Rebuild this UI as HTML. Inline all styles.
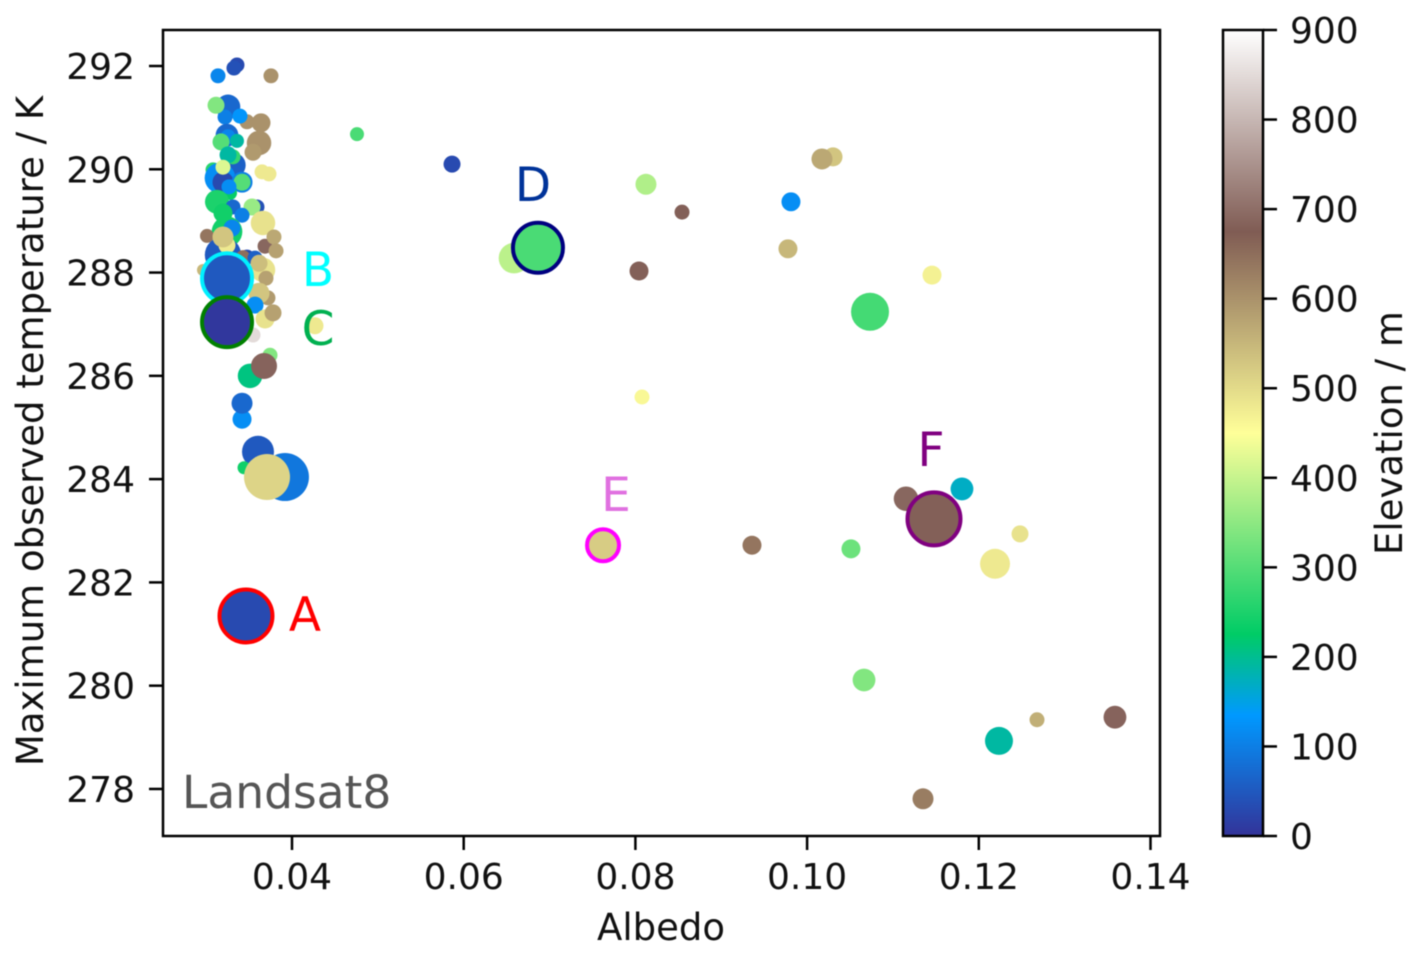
<!DOCTYPE html>
<html lang="en">
<head>
<meta charset="utf-8">
<title>Maximum observed temperature vs albedo (Landsat8)</title>
<style>
html,body{margin:0;padding:0;background:#fff;width:1420px;height:956px;overflow:hidden}
svg{display:block;filter:blur(0.5px)}
text{font-family:"DejaVu Sans","Liberation Sans",sans-serif;fill:#111}
</style>
</head>
<body>
<svg id="chart" xmlns="http://www.w3.org/2000/svg" width="1420" height="956" viewBox="0 0 1420 956">
  <defs>
    <linearGradient id="terrain-gradient" x1="0" y1="1" x2="0" y2="0"></linearGradient>
  </defs>
  <g id="points"></g>
  <g id="highlights"></g>
  <rect x="163" y="30" width="997" height="806" fill="none" stroke="#000" stroke-width="2.5"></rect>
  <g id="x-axis"></g>
  <g id="y-axis"></g>
  <text x="661" y="940" font-size="37" text-anchor="middle">Albedo</text>
  <text transform="translate(43,431) rotate(-90)" font-size="37" text-anchor="middle">Maximum observed temperature / K</text>
  <text x="182" y="808" font-size="45.5" style="fill:#555">Landsat8</text>
  <g id="colorbar">
    <rect x="1223" y="30" width="40" height="806" fill="url(#terrain-gradient)" stroke="#000" stroke-width="2.5"></rect>
  </g>
  <text transform="translate(1402,433) rotate(-90)" font-size="37" text-anchor="middle">Elevation / m</text>
</svg>
<script>
// ---- axis tick values ----
const xTicks = [0.04, 0.06, 0.08, 0.10, 0.12, 0.14];
const yTicks = [278, 280, 282, 284, 286, 288, 290, 292];
const elevationTicks = [0, 100, 200, 300, 400, 500, 600, 700, 800, 900];

// ---- regular sites, in draw order ----
const albedo = [
  0.03138,0.03359,0.03324,0.03755,0.03255,0.0322,0.03115,0.03476,0.03394,0.03639,
  0.03243,0.03255,0.03359,0.03616,0.03546,0.03173,0.03313,0.03313,0.03255,0.03651,
  0.03732,0.0308,0.03161,0.03196,0.03418,0.03418,0.03196,0.03278,0.03266,0.03126,
  0.03592,0.03534,0.03313,0.03418,0.03196,0.03662,0.03243,0.03301,0.0301,0.03686,
  0.0379,0.03814,0.03196,0.03243,0.03196,0.03476,0.03429,0.03569,0.02963,0.03662,
  0.03616,0.03697,0.0372,0.03616,0.03569,0.03686,0.03779,0.03546,0.04268,0.03744,
  0.03511,0.03674,0.03418,0.03418,0.03604,0.03441,0.03918,0.03709,
  0.04757,0.05864,0.06586,0.08123,0.08543,0.08042,0.09812,0.10302,0.10173,0.09777,
  0.11455,0.10733,0.08077,0.09358,0.10511,0.11152,0.11804,0.1248,0.12189,0.10663,
  0.12678,0.13586,0.12235,0.1135
];
const temperature = [
  291.81,292.02,291.96,291.81,291.21,291.01,291.24,290.92,291.03,290.90,
  290.66,290.63,290.55,290.51,290.33,290.53,290.08,290.24,290.28,289.95,
  289.91,289.99,289.83,289.75,289.75,289.75,290.04,289.54,289.66,289.37,
  289.27,289.27,289.27,289.11,289.15,288.96,288.79,288.86,288.71,288.51,
  288.69,288.42,288.34,288.53,288.69,288.30,288.30,288.28,288.05,288.05,
  288.18,287.89,287.51,287.60,287.37,287.10,287.22,286.79,286.97,286.40,
  286.00,286.19,285.16,285.47,284.53,284.22,284.04,284.04,
  290.68,290.10,288.28,289.71,289.17,288.03,289.37,290.24,290.20,288.46,
  287.95,287.24,285.59,282.72,282.65,283.62,283.81,282.94,282.36,280.11,
  279.34,279.39,278.93,277.81
];
const elevation = [
  110,30,40,600,70,100,340,600,130,600,
  70,110,190,600,590,300,60,270,190,480,
  480,260,120,30,100,300,420,230,120,250,
  40,360,70,100,240,490,240,110,640,690,
  570,580,50,480,530,30,650,60,550,490,
  540,580,590,530,120,490,580,850,480,340,
  210,685,120,70,50,240,90,510,
  290,30,390,380,680,680,120,530,570,550,
  470,285,460,640,320,690,170,490,480,340,
  560,685,190,630
];
const markerArea = [
  56,56,56,56,150,56,72,56,56,90,
  130,56,49,150,72,72,160,56,72,56,
  56,56,235,110,110,72,56,49,56,144,
  56,72,56,56,90,150,235,72,49,56,
  56,56,330,72,110,56,49,56,36,150,
  72,56,56,110,72,90,72,56,72,56,
  150,169,90,110,256,42,576,529,
  49,72,235,110,56,90,90,90,110,90,
  90,361,56,90,90,150,130,72,225,130,
  56,130,196,110
];

// ---- annotated sites ----
const siteLabels = ["A","B","C","D","E","F"];
const siteAlbedo = [0.03464,0.03243,0.03243,0.06865,0.07623,0.11478];
const siteTemperature = [281.35,287.89,287.04,288.48,282.72,283.23];
const siteElevation = [30,50,5,290,520,680];
const siteArea = [702,625,625,625,256,702];

// ---- colormap (terrain) stops: fraction, r, g, b ----
const cmapFractions = [0,0.15,0.25,0.5,0.75,1];
const cmapRed = [51,0,0,255,128,255];
const cmapGreen = [51,153,204,255,92,255];
const cmapBlue = [153,255,102,153,84,255];

const styleEdge = {A:"#ff0000",B:"#00f0ff",C:"#008000",D:"#000080",E:"#ff00ff",F:"#800080"};
const styleText = {A:"#ff0000",B:"#00ffff",C:"#00b050",D:"#003399",E:"#e070e0",F:"#800080"};
const labelOffset = {A:[59,15],B:[91,8],C:[91,23],D:[-5,-47],E:[13,-34],F:[-3,-53]};

const NS = "http://www.w3.org/2000/svg";
const xScale = v => 292 + (v - 0.04) * 8585;
const yScale = v => 66 + (292 - v) * 51.64;
const cbScale = v => 836 - v * (806 / 900);
const rScale = a => Math.sqrt(a);

function terrain(e) {
  const t = Math.max(0, Math.min(1, e / 900));
  let i = 0;
  while (i < cmapFractions.length - 2 && t > cmapFractions[i + 1]) i++;
  const f = (t - cmapFractions[i]) / (cmapFractions[i + 1] - cmapFractions[i]);
  const mix = arr => Math.round(arr[i] + (arr[i + 1] - arr[i]) * f);
  return "rgb(" + mix(cmapRed) + "," + mix(cmapGreen) + "," + mix(cmapBlue) + ")";
}
function make(tag, attrs, parent) {
  const el = document.createElementNS(NS, tag);
  for (const k in attrs) el.setAttribute(k, attrs[k]);
  parent.appendChild(el);
  return el;
}

// Gradient stops
const grad = document.getElementById("terrain-gradient");
cmapFractions.forEach(function (f) {
  make("stop", {offset: f, "stop-color": terrain(f * 900)}, grad);
});

// Regular points
const pointsG = document.getElementById("points");
albedo.forEach(function (a, i) {
  const c = make("circle", {cx: xScale(a), cy: yScale(temperature[i]), r: rScale(markerArea[i]), fill: terrain(elevation[i])}, pointsG);
  
  
});

// Highlighted points and letters
const hlG = document.getElementById("highlights");
siteLabels.forEach(function (lab, i) {
  const cx = xScale(siteAlbedo[i]), cy = yScale(siteTemperature[i]);
  const c = make("circle", {cx: cx, cy: cy, r: rScale(siteArea[i]), fill: terrain(siteElevation[i]), stroke: styleEdge[lab], "stroke-width": 4}, hlG);
  
  
  const t = make("text", {x: cx + labelOffset[lab][0], y: cy + labelOffset[lab][1], "font-size": 47, "text-anchor": "middle", style: "fill:" + styleText[lab]}, hlG);
  
  
  t.textContent = lab;
});

// X axis
const xG = document.getElementById("x-axis");
xTicks.forEach(function (v) {
  const x = xScale(v);
  const tick = make("line", {x1: x, x2: x, y1: 836, y2: 850, stroke: "#000", "stroke-width": 2.5}, xG);
  
  
  const t = make("text", {x: x, y: 889, "font-size": 36, "text-anchor": "middle"}, xG);
  
  
  t.textContent = v.toFixed(2);
});

// Y axis
const yG = document.getElementById("y-axis");
yTicks.forEach(function (v) {
  const y = yScale(v);
  const tick = make("line", {x1: 149, x2: 163, y1: y, y2: y, stroke: "#000", "stroke-width": 2.5}, yG);
  
  
  const t = make("text", {x: 135, y: y + 13, "font-size": 36, "text-anchor": "end"}, yG);
  
  
  t.textContent = v;
});

// Colorbar ticks
const cbG = document.getElementById("colorbar");
elevationTicks.forEach(function (v) {
  const y = cbScale(v);
  const tick = make("line", {x1: 1263, x2: 1277, y1: y, y2: y, stroke: "#000", "stroke-width": 2.5}, cbG);
  
  
  const t = make("text", {x: 1290, y: y + 13, "font-size": 36}, cbG);
  
  
  t.textContent = v;
});
</script>
</body>
</html>
